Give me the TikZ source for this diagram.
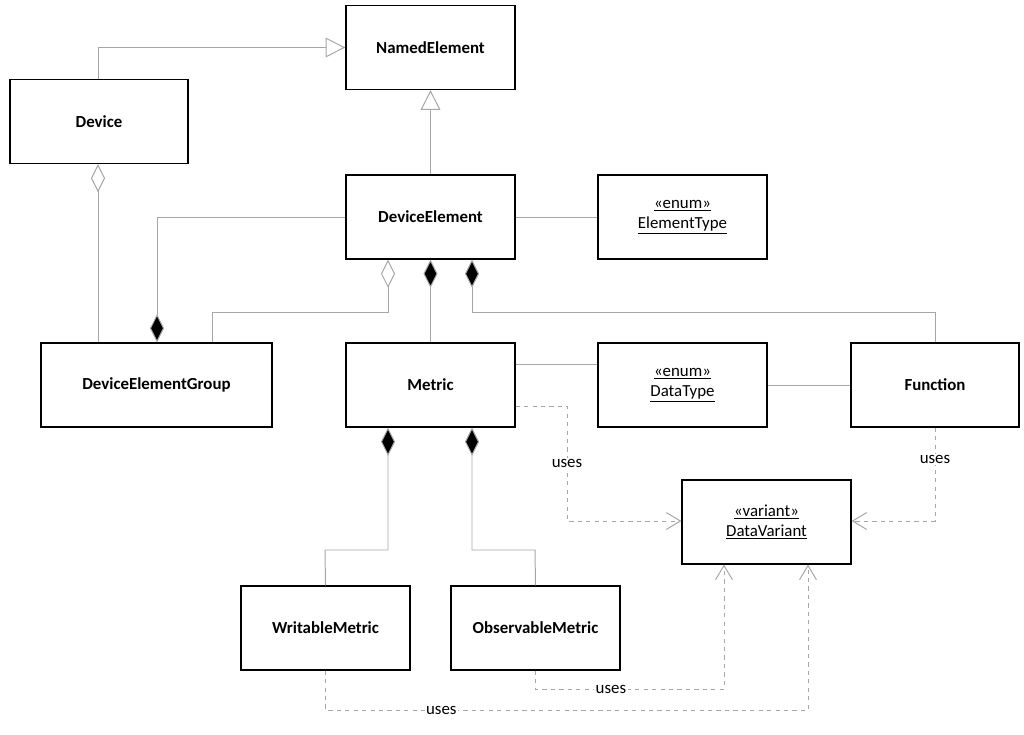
\documentclass[tikz,border=0pt]{standalone}
\usepackage{fontspec}
\setmainfont{Carlito}
\usetikzlibrary{arrows.meta}
\begin{document}
\begin{tikzpicture}[x=0.025cm,y=-0.025cm,
  box/.style={draw=black,line width=0.9pt,minimum width=169*0.025cm,minimum height=84*0.025cm,inner sep=0pt,font=\bfseries\large},
  enm/.style={box,font=\large,align=center},
  ln/.style={draw=gray!70,line width=0.7pt},
  gen/.style={ln,-{Triangle[open,length=14pt,width=14pt,fill=white]}},
  agg/.style={ln,{Diamond[open,length=20pt,width=10pt,fill=white]}-},
  comp/.style={ln,{Diamond[length=20pt,width=10pt,fill=black]}-},
  dep/.style={ln,dashed,-{Straight Barb[length=10pt,width=12pt]}},
  lab/.style={fill=white,inner sep=1pt,font=\large}]
\useasboundingbox (0,0) rectangle (1024,735);
\node[box] (ne) at (430.5,47.5) {NamedElement};
\node[box,minimum width=178*0.025cm] (dev) at (99,121.5) {Device};
\node[box] (de) at (430.5,217) {DeviceElement};
\node[enm] (et) at (682.5,217) {\underline{<<enum>>}\\\underline{ElementType}};
\node[box,minimum width=231*0.025cm] (deg) at (156.5,385) {DeviceElementGroup};
\node[box] (me) at (430.5,385) {Metric};
\node[enm] (dt) at (682.5,385) {\underline{<<enum>>}\\\underline{DataType}};
\node[box,minimum width=168*0.025cm] (fn) at (935,385) {Function};
\node[enm] (dv) at (766.5,522) {\underline{<<variant>>}\\\underline{DataVariant}};
\node[box] (wm) at (325.5,628) {WritableMetric};
\node[box] (om) at (535.5,628) {ObservableMetric};
% generalization
\draw[gen] (dev.north -| 98,0) |- (ne.west);
\draw[gen] (de.north) -- (ne.south);
\draw[ln] (de.east) -- (et.west);
% aggregation / composition
\draw[agg] (dev.south -| 98,0) -- (deg.north -| 98,0);
\draw[comp] (deg.north -| 157,0) |- (de.west);
\draw[agg] (de.south -| 388,0) |- (212,312) -- (deg.north -| 212,0);
\draw[comp] (de.south) -- (me.north);
\draw[comp] (de.south -| 472,0) |- (935,312) -- (fn.north);
\draw[ln] (me.east |- 0,364) -- (dt.west |- 0,364);
\draw[ln] (dt.east) -- (fn.west);
\draw[comp] (me.south -| 388,0) |- (325,550) -- (wm.north);
\draw[comp] (me.south -| 472,0) |- (535,550) -- (om.north);
% dependencies
\draw[dep] (me.east |- 0,406) -| (567,521) node[lab,pos=0.75] {uses} -- (dv.west |- 0,521);
\draw[dep] (fn.south) |- (dv.east |- 0,521) node[lab,pos=0.17] {uses};
\draw[dep] (om.south) |- (724,689) node[lab,pos=0.7] {uses} -- (dv.south -| 724,0);
\draw[dep] (wm.south) |- (808,710) node[lab,pos=0.62] {uses} -- (dv.south -| 808,0);
\end{tikzpicture}
\end{document}
